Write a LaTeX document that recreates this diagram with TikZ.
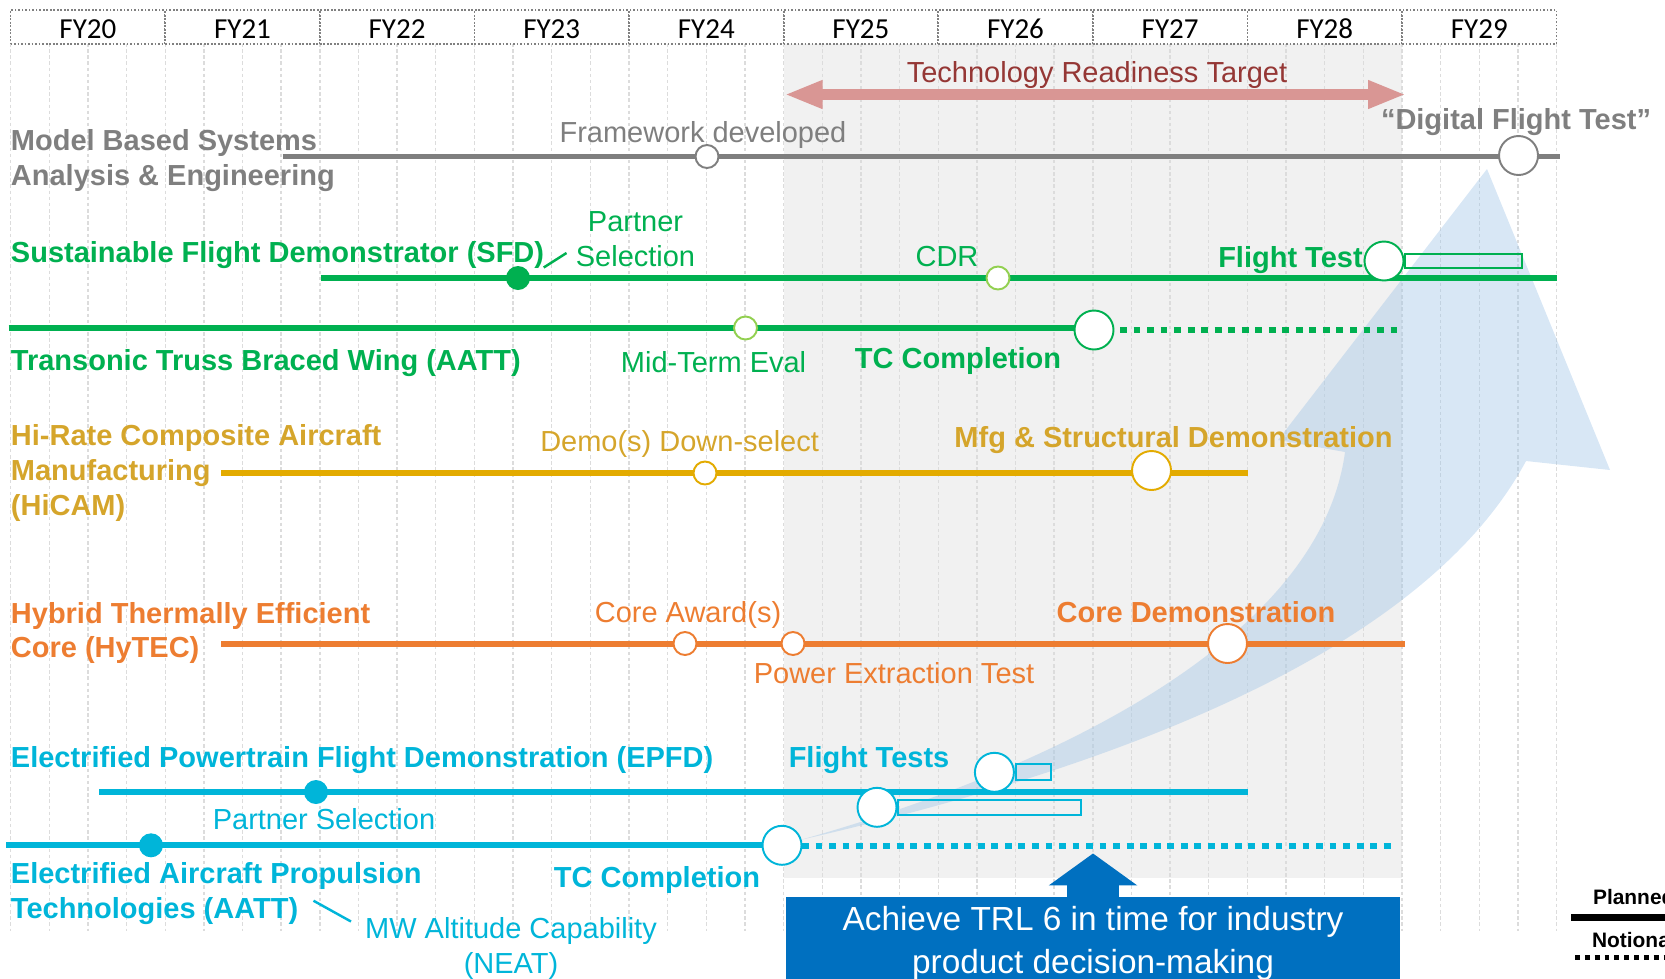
\documentclass[tikz,border=0pt]{standalone}
\usepackage{fontspec}
\setmainfont{Liberation Sans}
\newfontfamily\calibri{Carlito}
\usetikzlibrary{arrows.meta,positioning}

\definecolor{mbsegray}{HTML}{7F7F7F}
\definecolor{sfdgreen}{HTML}{00B050}
\definecolor{limegreen}{HTML}{92D050}
\definecolor{hicamgold}{HTML}{E3AB00}
\definecolor{hicamtext}{HTML}{D5A52B}
\definecolor{hytecorange}{HTML}{ED7D31}
\definecolor{epfdcyan}{HTML}{00B5D9}
\definecolor{trtpink}{HTML}{D99694}
\definecolor{trtred}{HTML}{953735}
\definecolor{goalblue}{HTML}{0070C0}
\definecolor{bandgray}{HTML}{F1F1F1}
\definecolor{gridgray}{HTML}{DCDCDC}
\definecolor{swooshblue}{HTML}{9DC3E6}

\tikzset{
    gridln/.style={gridgray, line width=0.8pt, dash pattern=on 2pt off 1.5pt},
    yearcell/.style={draw=black!50, densely dotted, line width=1pt, fill=white,
        minimum width=3.092cm, minimum height=0.68cm, inner sep=0pt,
        font=\calibri\fontsize{16.5}{19}\selectfont, text height=12.8pt, text depth=0pt},
    trtarrow/.style={trtpink, line width=0.22cm,
        {Triangle[width=0.52cm,length=0.76cm]}-{Triangle[width=0.52cm,length=0.76cm]}},
    swoosh/.style={fill=swooshblue, fill opacity=0.4},
    track/.style={line width=3.4pt},
    notional/.style={line width=3.4pt, dash pattern=on 3.9pt off 3.8pt},
    mstone/.style={circle, draw=#1, fill=white, line width=1.1pt, inner sep=0pt, minimum size=0.46cm},
    keystone/.style={circle, draw=#1, fill=white, line width=1.1pt, inner sep=0pt, minimum size=0.78cm},
    awardpt/.style={circle, fill=#1, inner sep=0pt, minimum size=0.48cm},
    testbar/.style={draw=#1, line width=1pt, inner sep=0pt, anchor=west},
    leader/.style={line width=1.4pt},
    event/.style={font=\fontsize{16.5}{19.7}\selectfont, text=#1, inner sep=0pt,
        text height=11.8pt, text depth=0pt},
    keyevent/.style={event=#1, font=\fontsize{16.5}{19.7}\selectfont\bfseries},
    prog/.style={keyevent=#1, anchor=west},
    progml/.style={font=\fontsize{16.5}{19.7}\selectfont\bfseries, text=#1, inner sep=0pt,
        align=left, anchor=north west},
    eventml/.style={font=\fontsize{16.5}{19.7}\selectfont, text=#1, inner sep=0pt,
        align=center, anchor=north},
    goalbox/.style={fill=goalblue, text=white, font=\fontsize{19}{24.6}\selectfont,
        align=center, anchor=north, minimum width=12.27cm, inner xsep=0pt, inner ysep=0.186cm},
    legendtxt/.style={font=\fontsize{11.9}{14}\selectfont\bfseries, inner sep=0pt, anchor=base west}
}

\begin{document}
\begin{tikzpicture}[x=0.02cm,y=-0.02cm]
    \useasboundingbox (0,0) rectangle (1665,978);
    \clip (0,0) rectangle (1665,978);

    \fill[bandgray] (783.6,43) rectangle (1402,878);
    \foreach \i in {0,...,40}
        \draw[gridln] ({10.6+38.65*\i},43) -- ({10.6+38.65*\i},931);
    \foreach \fy [count=\i from 0] in {20,...,29}
        \node[yearcell] (fy\fy) at ({87.9+154.6*\i},27) {FY\fy};

    \coordinate (trtL) at (784.5,94.5);
    \coordinate (trtR) at (1406,94.5);
    \draw[trtarrow] (trtL) -- (trtR);
    \node[event=trtred] (trt) at (1097,72) {Technology Readiness Target};

    \fill[swoosh] (800,840) .. controls (1050,770) and (1320,640) .. (1345,452)
        -- (1278,440) -- (1487,169) -- (1610,470) -- (1526,461)
        .. controls (1430,640) and (1150,760) .. (800,840) -- cycle;

    \coordinate (mbseS) at (282.5,156.5);
    \coordinate (mbseE) at (1560,156.5);
    \draw[track, mbsegray] (mbseS) -- (mbseE);
    \node[mstone=mbsegray] (mbseFw) at (707,156.5) {};
    \node[keystone=mbsegray] (mbseDft) at (1518.5,155.5) {};
    \node[progml=mbsegray] (mbseName) at (10.6,129.5) {Model Based Systems\\Analysis \& Engineering};
    \node[event=mbsegray] (mbseFwTxt) at (703,132) {Framework developed};
    \node[keyevent=mbsegray] (mbseDftTxt) at (1516,119) {“Digital Flight Test”};

    \coordinate (sfdS) at (320.7,278);
    \coordinate (sfdE) at (1557,278);
    \draw[track, sfdgreen] (sfdS) -- (sfdE);
    \node[awardpt=sfdgreen] (sfdPs) at (518,278) {};
    \node[mstone=limegreen] (sfdCdr) at (998,278) {};
    \node[keystone=sfdgreen] (sfdFt) at (1384,261) {};
    \node[testbar=sfdgreen, minimum width=2.34cm, minimum height=0.28cm] (sfdFtBar) at (sfdFt.east) {};
    \coordinate (sfdLeadA) at (543.7,267.5);
    \coordinate (sfdLeadB) at (566.5,253);
    \draw[leader, sfdgreen] (sfdLeadA) -- (sfdLeadB);
    \node[prog=sfdgreen] (sfdName) at (10.6,251.7) {Sustainable Flight Demonstrator (SFD)};
    \node[eventml=sfdgreen] (sfdPsTxt) at (635.5,211.5) {Partner\\Selection};
    \node[event=sfdgreen] (sfdCdrTxt) at (947,256) {CDR};
    \node[keyevent=sfdgreen, anchor=east] (sfdFtTxt) at (1363,257) {Flight Test};

    \coordinate (ttbwS) at (8.5,328);
    \coordinate (ttbwE) at (1094,328);
    \coordinate (ttbwN) at (1120,330);
    \coordinate (ttbwM) at (1402,330);
    \draw[track, sfdgreen] (ttbwS) -- (ttbwE);
    \draw[notional, sfdgreen] (ttbwN) -- (ttbwM);
    \node[mstone=limegreen] (ttbwMid) at (745.5,328) {};
    \node[keystone=sfdgreen] (ttbwTc) at (1094,330) {};
    \node[prog=sfdgreen] (ttbwName) at (10.6,360) {Transonic Truss Braced Wing (AATT)};
    \node[event=sfdgreen] (ttbwMidTxt) at (713.6,362) {Mid-Term Eval};
    \node[keyevent=sfdgreen] (ttbwTcTxt) at (958,358) {TC Completion};

    \coordinate (hicamS) at (221,472.5);
    \coordinate (hicamE) at (1248,472.5);
    \draw[track, hicamgold] (hicamS) -- (hicamE);
    \node[mstone=hicamgold] (hicamDs) at (705,473) {};
    \node[keystone=hicamgold] (hicamMsd) at (1151.5,470.5) {};
    \node[progml=hicamtext] (hicamName) at (10.6,424.5) {Hi-Rate Composite Aircraft\\Manufacturing\\(HiCAM)};
    \node[event=hicamtext] (hicamDsTxt) at (679.6,440.7) {Demo(s) Down-select};
    \node[keyevent=hicamtext] (hicamMsdTxt) at (1173.5,437) {Mfg \& Structural Demonstration};

    \coordinate (hytecS) at (221,643.5);
    \coordinate (hytecE) at (1405,643.5);
    \draw[track, hytecorange] (hytecS) -- (hytecE);
    \node[mstone=hytecorange] (hytecCa) at (685,643.5) {};
    \node[mstone=hytecorange] (hytecPe) at (793,643.5) {};
    \node[keystone=hytecorange] (hytecCd) at (1227.5,643.5) {};
    \node[progml=hytecorange] (hytecName) at (10.6,602) {Hybrid Thermally Efficient\\Core (HyTEC)};
    \node[event=hytecorange] (hytecCaTxt) at (688,611.7) {Core Award(s)};
    \node[event=hytecorange] (hytecPeTxt) at (894,673) {Power Extraction Test};
    \node[keyevent=hytecorange] (hytecCdTxt) at (1196,611.7) {Core Demonstration};

    \coordinate (epfdS) at (99,792);
    \coordinate (epfdE) at (1248,792);
    \draw[track, epfdcyan] (epfdS) -- (epfdE);
    \node[awardpt=epfdcyan] (epfdPs) at (316,792) {};
    \node[keystone=epfdcyan] (epfdFtA) at (994.4,772.3) {};
    \node[keystone=epfdcyan] (epfdFtB) at (877,807.3) {};
    \node[testbar=epfdcyan, minimum width=0.71cm, minimum height=0.32cm] (epfdBarA) at (epfdFtA.east) {};
    \node[testbar=epfdcyan, minimum width=3.66cm, minimum height=0.3cm] (epfdBarB) at (epfdFtB.east) {};
    \node[prog=epfdcyan] (epfdName) at (10.6,757) {Electrified Powertrain Flight Demonstration (EPFD)};
    \node[event=epfdcyan] (epfdPsTxt) at (324,819) {Partner Selection};
    \node[keyevent=epfdcyan] (epfdFtTxt) at (869,757) {Flight Tests};

    \coordinate (eaptS) at (6.4,845.3);
    \coordinate (eaptE) at (782,845.3);
    \coordinate (eaptN) at (802,845.7);
    \coordinate (eaptM) at (1395.5,845.7);
    \draw[track, epfdcyan] (eaptS) -- (eaptE);
    \draw[notional, epfdcyan] (eaptN) -- (eaptM);
    \node[awardpt=epfdcyan] (eaptMw) at (151,845.3) {};
    \node[keystone=epfdcyan] (eaptTc) at (782,845.3) {};
    \coordinate (eaptLeadA) at (313.5,900.7);
    \coordinate (eaptLeadB) at (351,921.5);
    \draw[leader, epfdcyan] (eaptLeadA) -- (eaptLeadB);
    \node[progml=epfdcyan] (eaptName) at (10.6,862.5) {Electrified Aircraft Propulsion\\Technologies (AATT)};
    \node[keyevent=epfdcyan] (eaptTcTxt) at (657,877) {TC Completion};
    \node[eventml=epfdcyan] (eaptMwTxt) at (511,917.5) {MW Altitude Capability\\(NEAT)};

    \node[goalbox] (goal) at (1093,896.7) {Achieve TRL 6 in time for industry\\product decision-making};
    \draw[goalblue, line width=1.056cm, -{Triangle[width=1.74cm,length=0.64cm]}]
        ([yshift=-1pt]goal.north) -- ++(0,-45);

    \node[legendtxt] (planned) at (1592.7,904) {Planned};
    \node[legendtxt] (notional) at (1591.7,947) {Notional};
    \coordinate (planA) at (1571,917.5);
    \coordinate (planB) at (1675,917.5);
    \coordinate (notA) at (1575,957.5);
    \coordinate (notB) at (1675,957.5);
    \draw[line width=3.8pt] (planA) -- (planB);
    \draw[line width=2.8pt, dash pattern=on 2.8pt off 2.8pt] (notA) -- (notB);
\end{tikzpicture}
\end{document}
